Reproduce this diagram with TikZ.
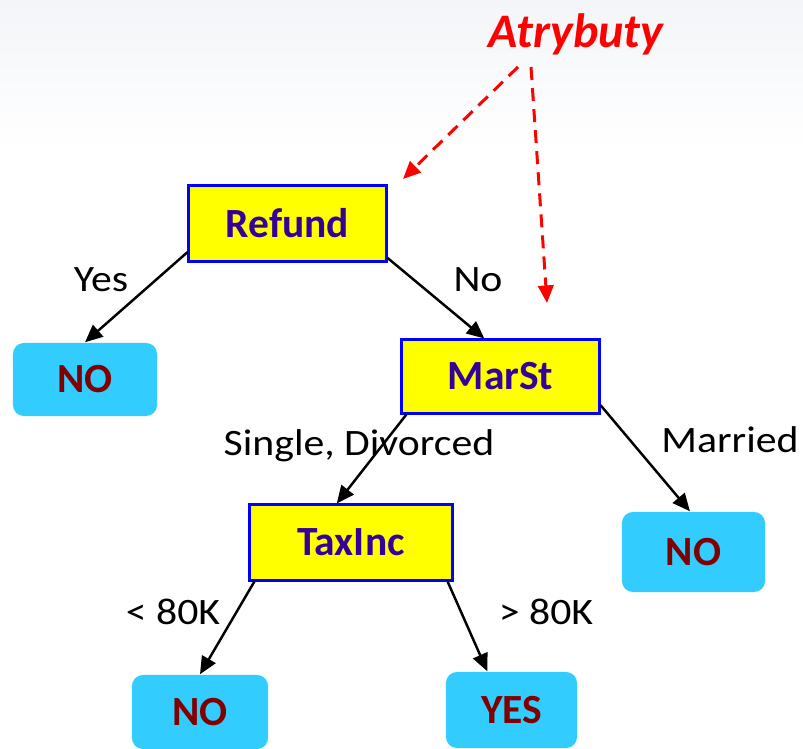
\documentclass[tikz,border=0pt]{standalone}
\usepackage{fontspec}
\usepackage{xcolor}
\setmainfont{Carlito}
\newfontfamily\branchfont[FakeStretch=1.12]{Carlito}
\usetikzlibrary{arrows.meta}

\definecolor{testyellow}{HTML}{FFFF00}
\definecolor{testblue}{HTML}{0000FF}
\definecolor{testtext}{HTML}{330099}
\definecolor{leafcyan}{HTML}{33CCFF}
\definecolor{leaftext}{HTML}{800000}
\definecolor{bgtop}{HTML}{F3F5F8}

\tikzset{
  testbox/.style={draw=testblue, line width=0.85pt, fill=testyellow, text=testtext,
    inner sep=0pt, font=\fontsize{11.8}{14}\selectfont\bfseries},
  leafbox/.style={fill=leafcyan, rounded corners=0.11cm, text=leaftext,
    inner sep=0pt, font=\fontsize{11.8}{14}\selectfont\bfseries},
  branch/.style={line width=0.7pt, -{Stealth[length=5pt,width=4.4pt,inset=0pt]}},
  branchlabel/.style={inner sep=0pt, font=\branchfont\fontsize{10.6}{12}\selectfont},
  hint/.style={red, line width=0.85pt, dash pattern=on 3.7pt off 2.3pt,
    -{Stealth[length=5pt,width=4.4pt,inset=0pt]}}
}

\begin{document}
\begin{tikzpicture}[x=0.01cm, y=-0.01cm]
    \useasboundingbox (0, 0) rectangle (803, 749);
    \shade[top color=bgtop, bottom color=white] (0, 0) rectangle (803, 150);

    % tests
    \node[testbox, minimum width=1.97cm, minimum height=0.75cm] (refund) at (287.5, 223.5) {Refund};
    \node[testbox, minimum width=1.97cm, minimum height=0.73cm] (marst) at (500.5, 376.5) {MarSt};
    \node[testbox, minimum width=2.03cm, minimum height=0.75cm] (taxinc) at (351, 542.5) {TaxInc};

    % leaves
    \node[leafbox, minimum width=1.44cm, minimum height=0.73cm] (noA) at (85, 379.5) {NO};
    \node[leafbox, minimum width=1.43cm, minimum height=0.80cm] (noB) at (693.5, 552) {NO};
    \node[leafbox, minimum width=1.36cm, minimum height=0.74cm] (noC) at (200, 712) {NO};
    \node[leafbox, minimum width=1.31cm, minimum height=0.76cm] (yes) at (511.5, 710) {YES};

    \draw[branch] (refund.196) -- (noA.north);
    \draw[branch] (refund.341) -- (marst.113);
    \draw[branch] (marst.202) -- (taxinc.110);
    \draw[branch] (marst.-16) -- (noB.95);
    \draw[branch] (taxinc.202) -- (noC.north);
    \draw[branch] (taxinc.-22) -- (yes.122);

    \node[branchlabel] (lyes) at (101, 280) {Yes};
    \node[branchlabel] (lno) at (478, 280) {No};
    \node[branchlabel] (lsingle) at (359, 446) {Single, Divorced};
    \node[branchlabel] (lmarried) at (730, 440) {Married};
    \node[branchlabel] (lless) at (173, 612) {< 80K};
    \node[branchlabel] (lmore) at (546, 612) {> 80K};

    % attributes
    \node[red, font=\fontsize{13.7}{16}\selectfont\bfseries\itshape] (atr) at (576, 34) {Atrybuty};
    \coordinate (hintA) at (518, 67);
    \coordinate (hintB) at (531, 67);
    \coordinate (refundtip) at (403, 179);
    \coordinate (marsttip) at (547, 303);
    \draw[hint] (hintA) -- (refundtip);
    \draw[hint] (hintB) -- (marsttip);
\end{tikzpicture}
\end{document}
